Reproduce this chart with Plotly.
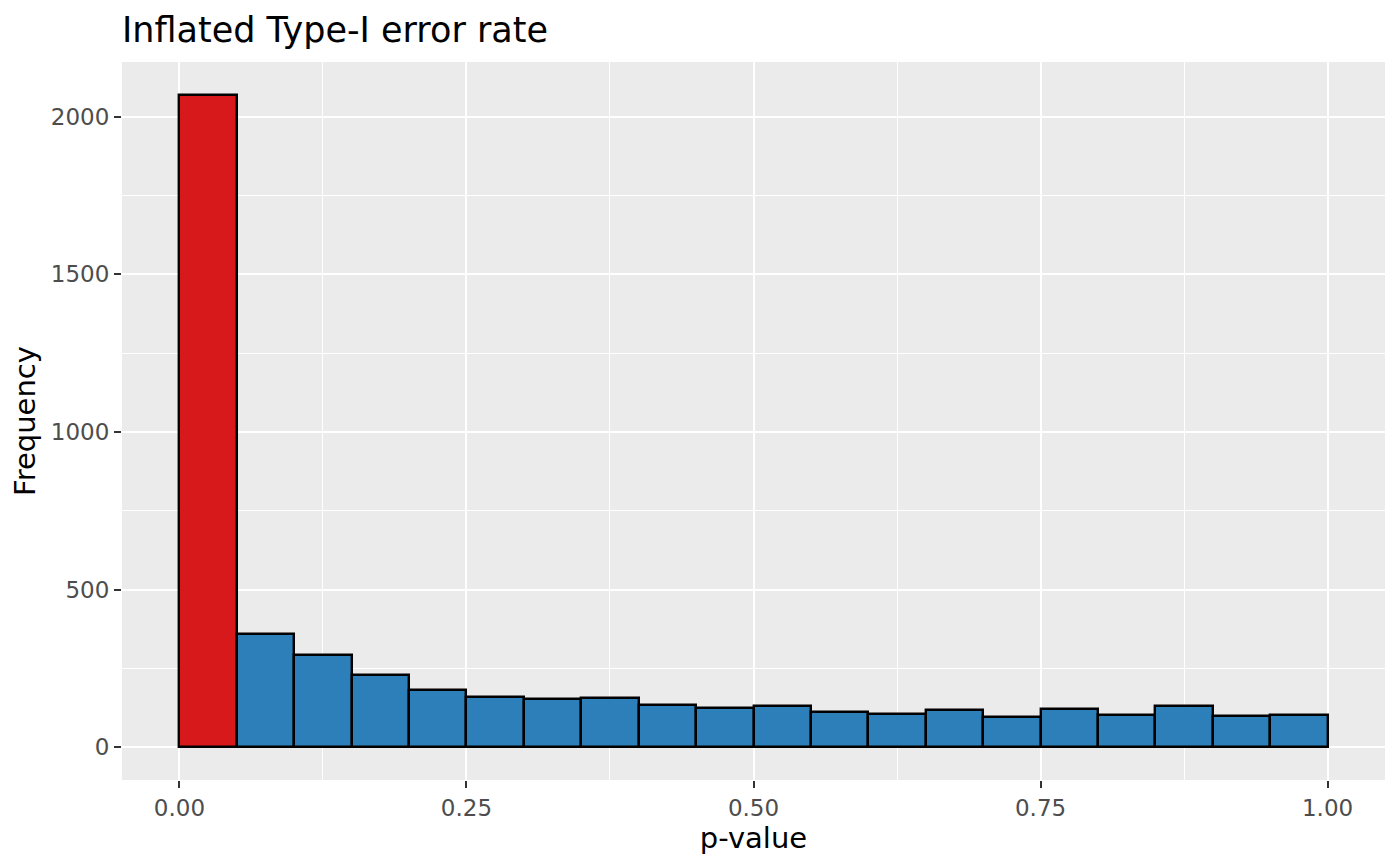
import plotly.graph_objects as go

# Histogram bins (p-value), width 0.05
bin_starts = [0.00, 0.05, 0.10, 0.15, 0.20, 0.25, 0.30, 0.35, 0.40, 0.45,
              0.50, 0.55, 0.60, 0.65, 0.70, 0.75, 0.80, 0.85, 0.90, 0.95]
bin_width = 0.05
counts = [2069, 359, 293, 229, 182, 159, 153, 155, 134, 124,
          132, 113, 106, 119, 97, 123, 104, 130, 100, 104]
significant = [True] + [False] * 19

x_ticks = [0.00, 0.25, 0.50, 0.75, 1.00]
x_tick_labels = ["0.00", "0.25", "0.50", "0.75", "1.00"]
y_ticks = [0, 500, 1000, 1500, 2000]

RED = "#D7191C"
BLUE = "#2C7FB8"

centers = [s + bin_width / 2 for s in bin_starts]
colors = [RED if s else BLUE for s in significant]

fig = go.Figure(go.Bar(
    x=centers, y=counts, width=bin_width,
    marker=dict(color=colors, line=dict(color="black", width=2.4)),
    hoverinfo="x+y",
))

FONT = "DejaVu Sans"
W, H = 1392, 857  # page body adds an 8px margin
fig.update_layout(
    width=W, height=H,
    margin=dict(l=114, r=15, t=54, b=85),
    paper_bgcolor="white",
    plot_bgcolor="#EBEBEB",
    showlegend=False,
    bargap=0,
    font=dict(family=FONT, color="#4D4D4D"),
    title=dict(text="Inflated Type-I error rate", x=114 / W, xanchor="left",
               y=1 - 22 / H, yanchor="middle",
               font=dict(family=FONT, size=35, color="black")),
)
fig.update_xaxes(
    range=[-0.05, 1.05], tickvals=x_ticks, ticktext=x_tick_labels,
    showgrid=True, gridcolor="white", gridwidth=2.4,
    minor=dict(dtick=0.125, tick0=0.125, showgrid=True, gridcolor="white", gridwidth=1.2, ticks=""),
    zeroline=False, showline=False,
    ticks="outside", ticklen=7, tickwidth=2.4, tickcolor="#333333",
    tickfont=dict(family=FONT, size=23, color="#4D4D4D"),
    title=dict(text="p-value", font=dict(family=FONT, size=29, color="black"), standoff=4),
)
fig.update_yaxes(
    range=[-103.5, 2173.5], tickvals=y_ticks,
    showgrid=True, gridcolor="white", gridwidth=2.4,
    minor=dict(dtick=250, tick0=250, showgrid=True, gridcolor="white", gridwidth=1.2, ticks=""),
    zeroline=False, showline=False,
    ticks="outside", ticklen=7, tickwidth=2.4, tickcolor="#333333",
    tickfont=dict(family=FONT, size=23, color="#4D4D4D"),
    title=dict(text="Frequency", font=dict(family=FONT, size=29, color="black"), standoff=8),
)

fig.write_html("out.html")
